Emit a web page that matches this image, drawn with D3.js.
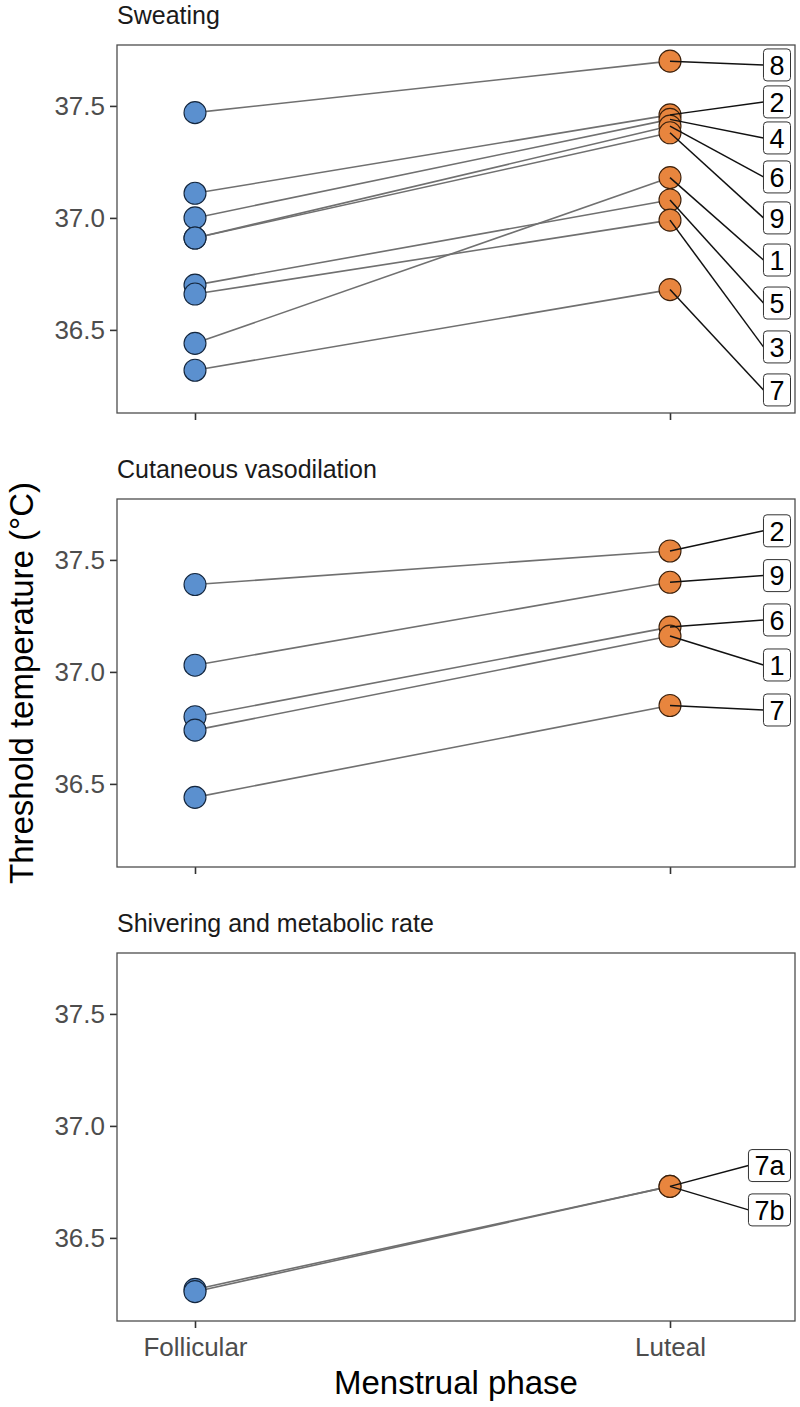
<!DOCTYPE html>
<html>
<head>
<meta charset="utf-8">
<script src="https://cdn.jsdelivr.net/npm/d3@7"></script>
<style>
  html, body { margin: 0; padding: 0; background: #fff; }
  svg { display: block; }
  text { font-family: "Liberation Sans", Arial, sans-serif; }
</style>
</head>
<body>
<svg id="chart" width="800" height="1407"></svg>
<script>
// ---------- DATA ----------
const phases = ["Follicular", "Luteal"];
const panelTitles = ["Sweating", "Cutaneous vasodilation", "Shivering and metabolic rate"];
const yTicks = [36.5, 37.0, 37.5];
const yTickLabels = ["36.5", "37.0", "37.5"];

// Sweating
const sweatIds        = ["8", "2", "4", "6", "9", "1", "5", "3", "7"];
const sweatFollicular = [37.47, 37.11, 37.00, 36.91, 36.91, 36.44, 36.70, 36.66, 36.32];
const sweatLuteal     = [37.70, 37.46, 37.44, 37.41, 37.38, 37.18, 37.08, 36.99, 36.68];
const sweatLabelAt    = [37.683, 37.518, 37.357, 37.183, 37.0, 36.812, 36.62, 36.424, 36.232];

// Cutaneous vasodilation
const vasoIds        = ["2", "9", "6", "1", "7"];
const vasoFollicular = [37.39, 37.03, 36.80, 36.74, 36.44];
const vasoLuteal     = [37.54, 37.40, 37.20, 37.16, 36.85];
const vasoLabelAt    = [37.63, 37.43, 37.232, 37.031, 36.83];

// Shivering and metabolic rate
const shivIds        = ["7a", "7b"];
const shivFollicular = [36.27, 36.26];
const shivLuteal     = [36.73, 36.73];
const shivLabelAt    = [36.823, 36.625];

const panelData = [
  { ids: sweatIds, fol: sweatFollicular, lut: sweatLuteal, lab: sweatLabelAt },
  { ids: vasoIds,  fol: vasoFollicular,  lut: vasoLuteal,  lab: vasoLabelAt },
  { ids: shivIds,  fol: shivFollicular,  lut: shivLuteal,  lab: shivLabelAt }
];

// ---------- LAYOUT ----------
const svg = d3.select("#chart");
const panelLeft = 117, panelWidth = 678, panelHeight = 368;
const panelTops = [45, 499, 953];
const colFol = "#5B90CF", colLut = "#E8853E";
const FONT = "Liberation Sans, Arial, sans-serif";

const x = d3.scalePoint().domain(phases).range([78, 553]);
const y = d3.scaleLinear().domain([36.129, 37.772]).range([panelHeight, 0]);

panelData.forEach((pd, pi) => {
  const g = svg.append("g").attr("transform", `translate(${panelLeft},${panelTops[pi]})`);

  // strip title
  g.append("text").attr("x", 0).attr("y", -21)
    .attr("font-size", 25).attr("fill", "#1a1a1a").text(panelTitles[pi]);

  // y axis
  const yAxis = d3.axisLeft(y).tickValues(yTicks).tickSize(7).tickPadding(5)
    .tickFormat((d, i) => yTickLabels[i]);
  const ya = g.append("g").call(yAxis);
  ya.select(".domain").remove();
  ya.selectAll(".tick line").attr("stroke", "#333").attr("stroke-width", 1.6);
  ya.selectAll(".tick text").attr("font-size", 26).attr("fill", "#4d4d4d")
    .attr("font-family", FONT);

  // x axis
  const xAxis = d3.axisBottom(x).tickSize(7).tickPadding(10);
  const xa = g.append("g").attr("transform", `translate(0,${panelHeight})`).call(xAxis);
  xa.select(".domain").remove();
  xa.selectAll(".tick line").attr("stroke", "#333").attr("stroke-width", 1.6);
  if (pi === 2) {
    xa.selectAll(".tick text").attr("font-size", 26).attr("fill", "#4d4d4d")
      .attr("font-family", FONT);
  } else {
    xa.selectAll(".tick text").remove();
  }

  const rows = pd.ids.map((id, i) => ({ id, fol: pd.fol[i], lut: pd.lut[i], lab: pd.lab[i] }));

  // connecting lines
  g.append("g").selectAll("line").data(rows).join("line")
    .attr("x1", x("Follicular")).attr("y1", d => y(d.fol))
    .attr("x2", x("Luteal")).attr("y2", d => y(d.lut))
    .attr("stroke", "#707070").attr("stroke-width", 1.6);

  // points
  const pts = g.append("g");
  rows.forEach(d => {
    pts.append("circle").attr("cx", x("Follicular")).attr("cy", y(d.fol)).attr("r", 11)
      .attr("fill", colFol).attr("stroke", "#14263d").attr("stroke-width", 1.1);
  });
  rows.forEach(d => {
    pts.append("circle").attr("cx", x("Luteal")).attr("cy", y(d.lut)).attr("r", 11)
      .attr("fill", colLut).attr("stroke", "#3a200c").attr("stroke-width", 1.1);
  });

  // labels (repelled positions)
  const labelRight = 673.5, boxH = 32, pad = 6, fs = 27;
  const lg = g.append("g");
  rows.forEach(d => {
    const tmp = lg.append("text").attr("font-size", fs).text(d.id);
    const w = tmp.node().getComputedTextLength() + pad * 2;
    tmp.remove();
    const bx = labelRight - w, cy = y(d.lab);
    lg.append("line")
      .attr("x1", x("Luteal")).attr("y1", y(d.lut))
      .attr("x2", bx).attr("y2", cy)
      .attr("stroke", "#111").attr("stroke-width", 1.5);
    d._bx = bx; d._w = w; d._cy = cy;
  });
  rows.forEach(d => {
    lg.append("rect").attr("x", d._bx).attr("y", d._cy - boxH / 2)
      .attr("width", d._w).attr("height", boxH).attr("rx", 3.5)
      .attr("fill", "#fff").attr("stroke", "#333").attr("stroke-width", 1);
    lg.append("text").attr("x", d._bx + d._w / 2).attr("y", d._cy)
      .attr("dy", "0.36em").attr("text-anchor", "middle")
      .attr("font-size", fs).attr("fill", "#000").text(d.id);
  });

  // panel border
  g.append("rect").attr("x", 0).attr("y", 0).attr("width", panelWidth).attr("height", panelHeight)
    .attr("fill", "none").attr("stroke", "#4d4d4d").attr("stroke-width", 1.3);
});

// axis titles
svg.append("text").attr("transform", `translate(33,683) rotate(-90)`)
  .attr("text-anchor", "middle").attr("font-size", 33).attr("fill", "#000")
  .text("Threshold temperature (°C)");
svg.append("text").attr("x", panelLeft + panelWidth / 2).attr("y", 1394)
  .attr("text-anchor", "middle").attr("font-size", 33).attr("fill", "#000")
  .text("Menstrual phase");
</script>
</body>
</html>
